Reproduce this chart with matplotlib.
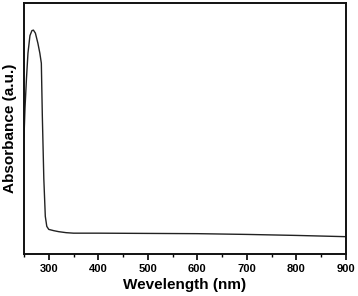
import numpy as np
import matplotlib
matplotlib.use("Agg")
import matplotlib.pyplot as plt
from matplotlib.ticker import MultipleLocator

# absorbance spectrum (arbitrary units)
wavelength = [250, 252, 255, 258, 262, 266, 269, 273, 278, 282, 285, 287, 290,
              293, 296, 300, 310, 320, 335, 350, 400, 500, 600, 700, 800, 900]
absorbance = [0.466, 0.58, 0.70, 0.80, 0.87, 0.89, 0.892, 0.88, 0.84, 0.80, 0.76,
              0.55, 0.30, 0.15, 0.11, 0.098, 0.093, 0.089, 0.085, 0.083, 0.083,
              0.082, 0.081, 0.078, 0.074, 0.069]
xticks = [300, 400, 500, 600, 700, 800, 900]

plt.rcParams['font.family'] = ['Liberation Sans', 'DejaVu Sans']
plt.rcParams['font.weight'] = 'bold'

fig = plt.figure(figsize=(3.58, 2.96), dpi=100)
ax = fig.add_axes([24/358, 42/296, 322/358, 251/296])
ax.plot(wavelength, absorbance, color='#222222', lw=1.0)

ax.set_xlim(250, 900)
ax.set_ylim(0, 1)
ax.set_xticks(xticks)
ax.xaxis.set_minor_locator(MultipleLocator(50))
ax.set_yticks([])
ax.tick_params(axis='x', which='major', direction='out', length=4, width=1.2,
               labelsize=8, pad=3)
ax.tick_params(axis='x', which='minor', direction='out', length=2.5, width=1.0)
for lab in ax.get_xticklabels():
    lab.set_fontweight('bold')
for sp in ax.spines.values():
    sp.set_linewidth(1.4)
    sp.set_color('#111111')

ax.set_xlabel("Wevelength (nm)", fontsize=11, fontweight='bold', labelpad=3)
ax.set_ylabel("Absorbance (a.u.)", fontsize=11, fontweight='bold', labelpad=5)

fig.savefig("out.png", dpi=100)
